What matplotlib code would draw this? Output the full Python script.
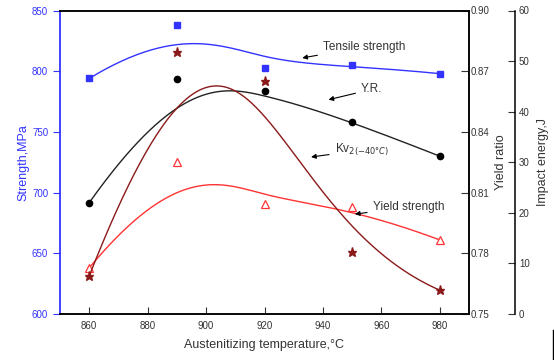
import numpy as np
import matplotlib.pyplot as plt
from matplotlib.lines import Line2D

plt.rcParams['font.family'] = ['Liberation Sans', 'DejaVu Sans']

# data
temps = [860, 890, 920, 950, 980]
tensile = [794, 838, 803, 805, 798]          # MPa
yield_strength = [638, 725, 691, 688, 661]   # MPa
yield_ratio = [0.805, 0.866, 0.860, 0.845, 0.828]
impact = [7.5, 51.7, 46.1, 12.3, 4.7]        # J


def bspline(xs, ys, n=300, k=3):
    # clamped B-spline using the points as control points
    P = np.column_stack([xs, ys]).astype(float)
    m = len(P)
    inner = np.arange(1, m - k)
    knots = np.concatenate([np.zeros(k + 1), inner, np.full(k + 1, m - k)])
    u = np.linspace(0, m - k, n)
    u[-1] -= 1e-9

    def basis(i, d, t):
        if d == 0:
            return np.where((knots[i] <= t) & (t < knots[i + 1]), 1.0, 0.0)
        a = 0.0
        b = 0.0
        if knots[i + d] != knots[i]:
            a = (t - knots[i]) / (knots[i + d] - knots[i]) * basis(i, d - 1, t)
        if knots[i + d + 1] != knots[i + 1]:
            b = (knots[i + d + 1] - t) / (knots[i + d + 1] - knots[i + 1]) * basis(i + 1, d - 1, t)
        return a + b

    N = np.array([basis(i, k, u) for i in range(m)])
    pts = N.T @ P
    return pts[:, 0], pts[:, 1]


blue = '#3333ff'
red = '#ff3333'
brown = '#8b1a1a'
black = '#222222'

fig = plt.figure(figsize=(5.54, 3.60), dpi=100)
ax = fig.add_axes([60 / 554, 46 / 360, 409 / 554, 303.5 / 360])
ax2 = ax.twinx()
ax3 = ax.twinx()
ax3.spines['right'].set_position(('axes', 1.112))
for s in ['top', 'left', 'bottom']:
    ax3.spines[s].set_visible(False)

# left axis
x, y = bspline(temps, tensile)
ax.plot(x, y, color=blue, lw=1)
ax.plot(temps, tensile, 's', color=blue, ms=4)
x, y = bspline(temps, yield_strength)
ax.plot(x, y, color=red, lw=1)
ax.plot(temps, yield_strength, '^', mfc='white', mec=red, ms=6, mew=0.9)
ax.set_xlim(850, 990)
ax.set_ylim(600, 850)
ax.set_xticks(np.arange(860, 981, 20))
ax.set_yticks(np.arange(600, 851, 50))
ax.tick_params(axis='y', direction='out', length=5, colors=blue, labelsize=7)
ax.tick_params(axis='x', direction='in', length=5, labelsize=7, colors='#333333', pad=5)
ax.set_ylabel('Strength,MPa', color=blue, fontsize=9, labelpad=2)
ax.set_xlabel('Austenitizing temperature,°C', fontsize=9, color='#333333', labelpad=6)

# yield ratio
x, y = bspline(temps, yield_ratio)
ax2.plot(x, y, color=black, lw=1)
ax2.plot(temps, yield_ratio, 'o', color='black', ms=4.5)
ax2.set_ylim(0.75, 0.90)
ax2.set_yticks([0.75, 0.78, 0.81, 0.84, 0.87, 0.90])
ax2.set_yticklabels(['0.75', '0.78', '0.81', '0.84', '0.87', '0.90'])
ax2.tick_params(axis='y', direction='in', length=6, labelsize=7, colors='#333333', pad=1)
ax2.set_ylabel('Yield ratio', fontsize=9, color='#333333', labelpad=4)

# impact energy
x, y = bspline(temps, impact)
ax3.plot(x, y, color=brown, lw=1)
ax3.plot(temps, impact, '*', color=brown, ms=6.5)
ax3.set_ylim(0, 60)
ax3.set_yticks(np.arange(0, 61, 10))
ax3.tick_params(axis='y', direction='in', length=5, labelsize=7, colors='#333333', pad=3)
ax3.set_ylabel('Impact energy,J', fontsize=9, color='#333333', labelpad=5)

for a in (ax, ax2, ax3):
    for s in a.spines.values():
        s.set_linewidth(1.1)
ax.spines['left'].set_color(blue)
ax.spines['left'].set_linewidth(1.3)
ax2.spines['left'].set_visible(False)

# annotations
arrow = dict(arrowstyle='-|>', color='black', lw=0.8, mutation_scale=7)
ax.annotate('Tensile strength', xy=(932, 810.5), xytext=(940, 820),
            fontsize=8.5, color='#333333', va='center', ha='left',
            arrowprops=arrow)
ax.annotate('Y.R.', xy=(941, 776), xytext=(953, 785),
            fontsize=8.5, color='#333333', va='center', ha='left',
            arrowprops=arrow)
ax.annotate('Kv$_{2(-40°C)}$', xy=(935, 729), xytext=(944, 735),
            fontsize=8.5, color='#333333', va='center', ha='left',
            arrowprops=arrow)
ax.annotate('Yield strength', xy=(950, 682), xytext=(957, 688),
            fontsize=8.5, color='#333333', va='center', ha='left',
            arrowprops=arrow)

fig.add_artist(Line2D([553 / 554, 553 / 554], [0, 30 / 360], color='black', lw=1))

fig.savefig('out.png', dpi=100)
